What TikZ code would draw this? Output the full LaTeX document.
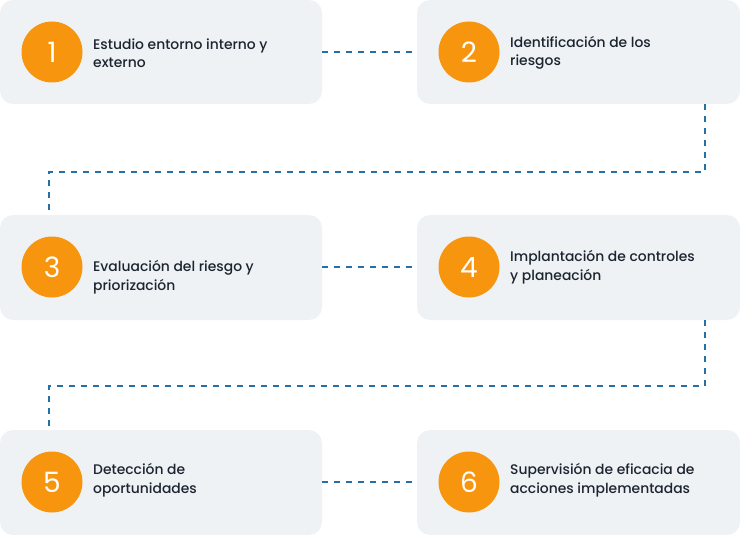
\documentclass[tikz,border=0pt]{standalone}
\usepackage{fontspec}
\setmainfont{Poppins}
\newfontfamily\medfont{Poppins Medium}
\definecolor{boxbg}{HTML}{EEF2F5}
\definecolor{orng}{HTML}{F7960E}
\definecolor{txt}{HTML}{1C2430}
\definecolor{lnk}{HTML}{2371A6}
\begin{document}
\begin{tikzpicture}[x=1pt,y=-1pt,
  card/.style={fill=boxbg, rounded corners=13pt},
  num/.style={circle, fill=orng, minimum size=61pt, inner sep=0pt, text=white, font=\fontsize{28}{28}\selectfont},
  lbl/.style={anchor=west, align=left, text=txt, inner sep=0pt, font=\medfont\fontsize{13.9}{18.5}\selectfont},
  link/.style={draw=lnk, line width=1.6pt, dash pattern=on 6pt off 6pt}]
\useasboundingbox (0,0) rectangle (740,535);
% cards
\path[card] (0,0) rectangle (322,104);
\path[card] (417,0) rectangle (740,104);
\path[card] (0,215) rectangle (322,320);
\path[card] (417,215) rectangle (740,320);
\path[card] (0,430) rectangle (322,535);
\path[card] (417,430) rectangle (740,535);
\coordinate (c1r) at (322,52);
\coordinate (c2l) at (417,52);
\coordinate (c2b) at (705,104);
\coordinate (c3t) at (49,215);
\coordinate (c3r) at (322,267);
\coordinate (c4l) at (417,267);
\coordinate (c4b) at (705,320);
\coordinate (c5t) at (49,430);
\coordinate (c5r) at (322,482);
\coordinate (c6l) at (417,482);
% numbers
\node[num] (n1) at (52,52) {1};
\node[num] (n2) at (469,52) {2};
\node[num] (n3) at (52,267) {3};
\node[num] (n4) at (469,267) {4};
\node[num] (n5) at (52,482) {5};
\node[num] (n6) at (469,482) {6};
% labels
\node[lbl] (t1) at (93,53) {Estudio entorno interno y\\externo};
\node[lbl] (t2) at (510,53) {Identificación de los\\riesgos};
\node[lbl] (t3) at (93,277) {Evaluación del riesgo y\\priorización};
\node[lbl] (t4) at (510,267) {Implantación de controles\\y planeación};
\node[lbl] (t5) at (93,480) {Detección de\\oportunidades};
\node[lbl] (t6) at (510,480) {Supervisión de eficacia de\\acciones implementadas};
% links
\draw[link] (c1r) -- (c2l);
\draw[link] (c2b) -- (c2b |- 0,172) -- (c3t |- 0,172) -- (c3t);
\draw[link] (c3r) -- (c4l);
\draw[link] (c4b) -- (c4b |- 0,386) -- (c5t |- 0,386) -- (c5t);
\draw[link] (c5r) -- (c6l);
\end{tikzpicture}
\end{document}
